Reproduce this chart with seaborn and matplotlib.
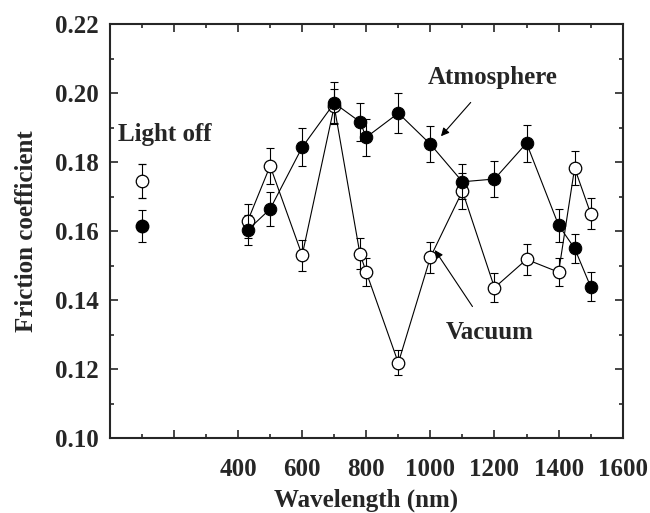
import pandas as pd
import seaborn as sns
import matplotlib.pyplot as plt
from matplotlib.ticker import MultipleLocator, FuncFormatter

# Datos
wavelength = [430, 500, 600, 700, 780, 800, 900, 1000, 1100, 1200, 1300, 1400, 1450, 1500]
atmosphere = [0.1603, 0.1664, 0.1843, 0.1971, 0.1917, 0.1872, 0.1942, 0.1852, 0.1743, 0.1751, 0.1855, 0.1617, 0.1550, 0.1439]
atmosphere_err = [0.0044, 0.0050, 0.0055, 0.0060, 0.0055, 0.0054, 0.0058, 0.0053, 0.0051, 0.0051, 0.0054, 0.0048, 0.0043, 0.0043]
vacuum = [0.1629, 0.1789, 0.1530, 0.1962, 0.1535, 0.1481, 0.1218, 0.1524, 0.1716, 0.1436, 0.1518, 0.1481, 0.1783, 0.1651]
vacuum_err = [0.0049, 0.0052, 0.0045, 0.0050, 0.0045, 0.0041, 0.0036, 0.0045, 0.0052, 0.0042, 0.0045, 0.0041, 0.0049, 0.0044]

light_off_x = [100]
light_off_atm = [0.1615]
light_off_atm_err = [0.0047]
light_off_vac = [0.1745]
light_off_vac_err = [0.0050]

df = pd.DataFrame({'wavelength': wavelength, 'atmosphere': atmosphere, 'vacuum': vacuum})

sns.set_style("ticks")
plt.rcParams['font.family'] = ['Liberation Serif', 'DejaVu Serif']
plt.rcParams['font.weight'] = 'bold'

fig = plt.figure(figsize=(6.5, 5.13), dpi=100)
ax = fig.add_axes([0.169, 0.146, 0.789, 0.807])

# Vacio (circulos abiertos)
ax.errorbar(wavelength, vacuum, yerr=vacuum_err, fmt='none', ecolor='black',
            elinewidth=0.8, capsize=3, capthick=0.8, zorder=2)
sns.lineplot(data=df, x='wavelength', y='vacuum', ax=ax, color='black', linewidth=0.8,
             marker='o', markersize=9, markerfacecolor='white', markeredgecolor='black',
             markeredgewidth=0.9, zorder=3)

# Atmosfera (circulos llenos)
ax.errorbar(wavelength, atmosphere, yerr=atmosphere_err, fmt='none', ecolor='black',
            elinewidth=0.8, capsize=3, capthick=0.8, zorder=4)
sns.lineplot(data=df, x='wavelength', y='atmosphere', ax=ax, color='black', linewidth=0.8,
             marker='o', markersize=9, markerfacecolor='black', markeredgecolor='black',
             zorder=5)

# Luz apagada
ax.errorbar(light_off_x, light_off_vac, yerr=light_off_vac_err, fmt='o', color='black',
            markersize=9, markerfacecolor='white', markeredgewidth=0.9,
            elinewidth=0.8, capsize=3, capthick=0.8, zorder=3)
ax.errorbar(light_off_x, light_off_atm, yerr=light_off_atm_err, fmt='o', color='black',
            markersize=9, markerfacecolor='black',
            elinewidth=0.8, capsize=3, capthick=0.8, zorder=5)

ax.set_xlim(0, 1600)
ax.set_ylim(0.10, 0.22)
ax.xaxis.set_major_locator(MultipleLocator(200))
ax.xaxis.set_minor_locator(MultipleLocator(100))
ax.yaxis.set_major_locator(MultipleLocator(0.02))
ax.yaxis.set_minor_locator(MultipleLocator(0.01))
ax.xaxis.set_major_formatter(FuncFormatter(lambda v, p: '' if v < 400 else f'{v:.0f}'))
ax.yaxis.set_major_formatter(FuncFormatter(lambda v, p: f'{v:.2f}'))
ax.tick_params(axis='both', which='both', direction='in', top=True, right=True,
               labelsize=18, width=1.2, pad=8)
ax.tick_params(axis='x', which='major', pad=14)
ax.tick_params(which='major', length=6)
ax.tick_params(which='minor', length=3)
for s in ax.spines.values():
    s.set_linewidth(1.5)

ax.set_xlabel('Wavelength (nm)', fontsize=18, fontweight='bold', labelpad=6)
ax.set_ylabel('Friction coefficient', fontsize=18, fontweight='bold', labelpad=12)

ax.text(26, 0.188, 'Light off', fontsize=18, fontweight='bold', va='center', ha='left')
ax.annotate('Atmosphere', xy=(1033, 0.1875), xytext=(1195, 0.2046), fontsize=18,
            fontweight='bold', ha='center', va='center',
            arrowprops=dict(arrowstyle='-|>', color='black', lw=0.8, shrinkA=10, shrinkB=0,
                            mutation_scale=12))
ax.annotate('Vacuum', xy=(1014, 0.1545), xytext=(1186, 0.1305), fontsize=18,
            fontweight='bold', ha='center', va='center',
            arrowprops=dict(arrowstyle='-|>', color='black', lw=0.8, shrinkA=10, shrinkB=0,
                            mutation_scale=12))

fig.savefig('out.png', dpi=100)
